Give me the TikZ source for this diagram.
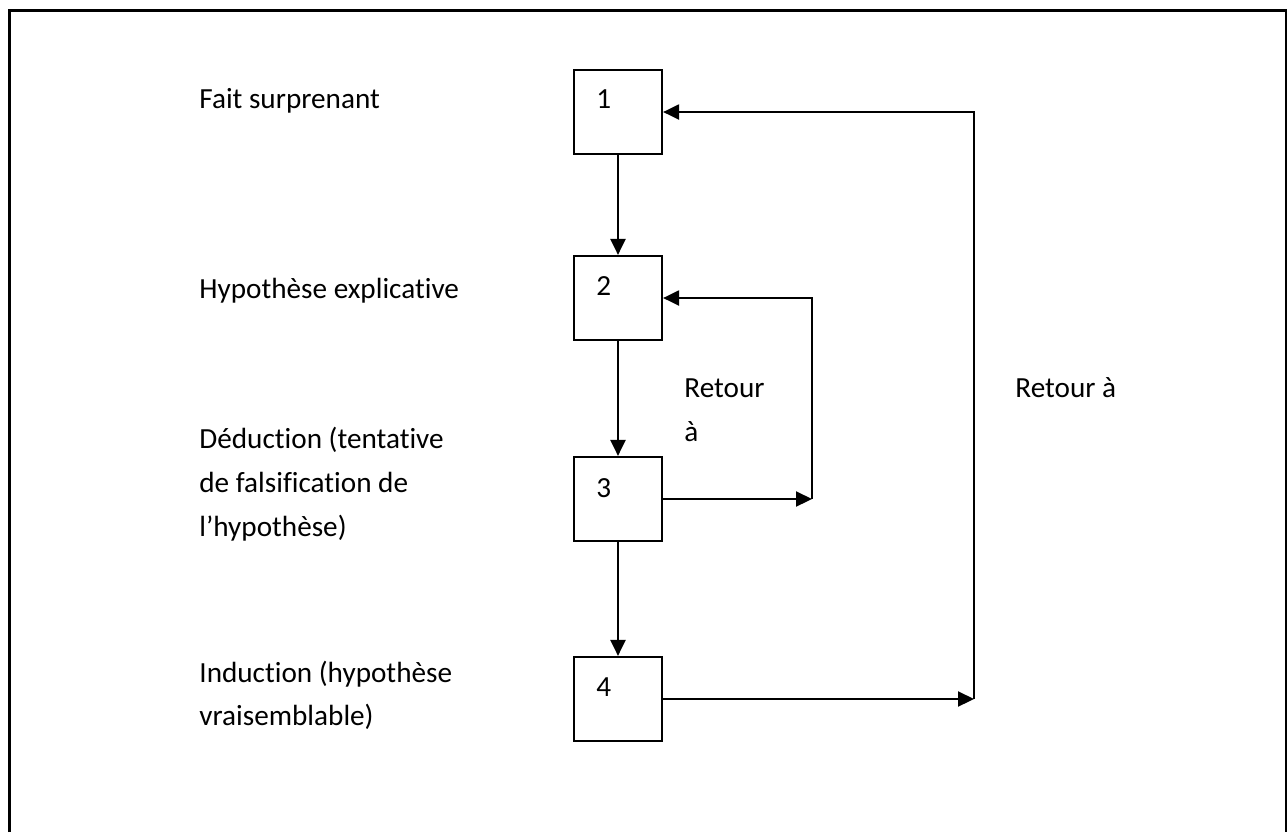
\documentclass[tikz,border=0pt]{standalone}
\usepackage{fontspec}
\setmainfont{Carlito}[Ligatures=NoCommon]
\usetikzlibrary{arrows.meta}
\tikzset{
  stage/.style={draw, line width=1.1pt, minimum width=44pt, minimum height=42pt, inner sep=0pt},
  txt/.style={anchor=base west, inner sep=0pt, font=\fontsize{14.6}{18}\selectfont},
  flow/.style={line width=1.1pt, -{Triangle[length=8pt,width=7.5pt]}},
}
\begin{document}
\begin{tikzpicture}[x=0.5pt,y=-0.5pt]
  \useasboundingbox (0,0) rectangle (1287,832);
  % open frame
  \draw[line width=1.5pt] (9,832) -- (9,10) -- (1286,10) -- (1286,832);

  % stage boxes
  \node[stage] (b1) at (618,112) {};
  \node[stage] (b2) at (618,298) {};
  \node[stage] (b3) at (618,499) {};
  \node[stage] (b4) at (618,699) {};

  % stage numbers
  \node[txt] (n1) at (596,108) {1};
  \node[txt] (n2) at (596,295) {2};
  \node[txt] (n3) at (596,497) {3};
  \node[txt] (n4) at (596,696) {4};

  % stage descriptions
  \node[txt] (t1) at (199,108) {Fait surprenant};
  \node[txt] (t2) at (199,298) {Hypothèse explicative};
  \node[txt] (t3a) at (199,448) {Déduction (tentative};
  \node[txt] (t3b) at (199,492) {de falsification de};
  \node[txt] (t3c) at (199,536) {l’hypothèse)};
  \node[txt] (t4a) at (199,682) {Induction (hypothèse};
  \node[txt] (t4b) at (199,725) {vraisemblable)};

  % loop labels
  \node[txt] (r1a) at (684,397) {Retour};
  \node[txt] (r1b) at (684,441) {à};
  \node[txt] (r2) at (1015,397) {Retour à};

  % main sequence
  \draw[flow] (b1.south) -- (b2.north);
  \draw[flow] (b2.south) -- (b3.north);
  \draw[flow] (b3.south) -- (b4.north);

  % inner loop: 3 back to 2
  \coordinate (x2) at (812,0);
  \coordinate (c3) at (x2 |- b3.east);
  \coordinate (c2) at (x2 |- b2.east);
  \draw[flow] (b3.east) -- (c3);
  \draw[flow] (c3) -- (c2) -- (b2.east);

  % outer loop: 4 back to 1
  \coordinate (x1) at (974,0);
  \coordinate (c4) at (x1 |- b4.east);
  \coordinate (c1) at (x1 |- b1.east);
  \draw[flow] (b4.east) -- (c4);
  \draw[flow] (c4) -- (c1) -- (b1.east);
\end{tikzpicture}
\end{document}
